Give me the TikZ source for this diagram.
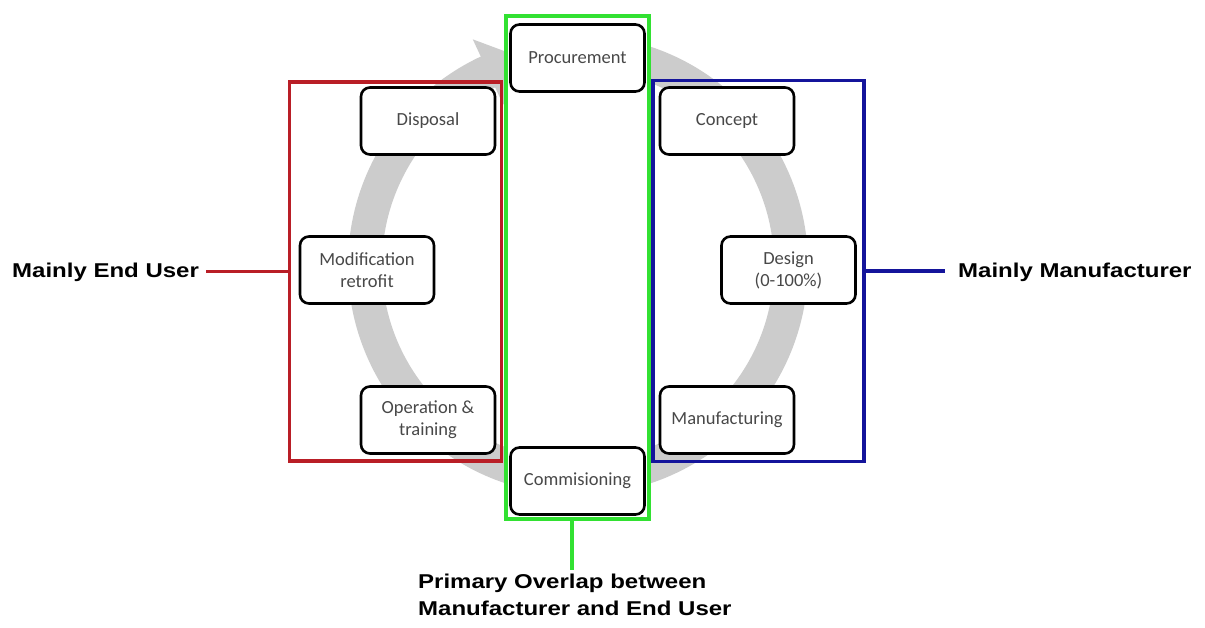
\documentclass[tikz,border=0pt]{standalone}
\usepackage{fontspec}
\newfontfamily\lblfont[FakeStretch=1.2]{Liberation Sans}
\newfontfamily\stepfont{Carlito}
\definecolor{ringgray}{RGB}{204,204,204}
\definecolor{stepgray}{RGB}{72,72,72}
\definecolor{userred}{RGB}{185,30,38}
\definecolor{makerblue}{RGB}{20,20,155}
\definecolor{overlapgreen}{RGB}{50,225,50}
\tikzset{
  stepbox/.style={draw=black, line width=2.6pt, rounded corners=9pt, fill=white,
    minimum width=134pt, minimum height=67pt, inner sep=0pt, align=center,
    text=stepgray, font=\stepfont\fontsize{18.5}{22}\selectfont},
  groupbox/.style={line width=3.6pt, inner sep=0pt},
  grouplabel/.style={inner sep=0pt, text=black, font=\lblfont\bfseries\fontsize{20}{27}\selectfont},
  ringpart/.style={ringgray}
}
\begin{document}
\begin{tikzpicture}[x=1pt,y=-1pt]
\useasboundingbox (0,0) rectangle (1205,627);
\fill[white] (0,0) rectangle (1205,627);

% life-cycle ring with its arrow head
\coordinate (rc) at (578,265);
\draw[ringpart, line width=34pt] ([shift={(rc)}]-85:213) arc[start angle=-85, end angle=247, radius=213];
\fill[ringpart] ([shift={(rc)}]245:177) -- ([shift={(rc)}]258:207) -- ([shift={(rc)}]245:249) -- cycle;

% overlap column (white inside) and the two party frames
\node[groupbox, draw=overlapgreen, fill=white, minimum width=143pt, minimum height=503pt] (greenbox) at (577.5,267.5) {};
\node[groupbox, draw=userred, minimum width=212pt, minimum height=379pt] (redbox) at (395.5,271.5) {};
\node[groupbox, draw=makerblue, minimum width=211pt, minimum height=381pt] (bluebox) at (758.5,271) {};

% life-cycle steps
\node[stepbox] (procurement) at (577.5,58) {Procurement};
\node[stepbox] (concept) at (727,121) {Concept};
\node[stepbox] (design) at (788.5,270) {Design\\(0-100\%)};
\node[stepbox] (manufacturing) at (727,420) {Manufacturing};
\node[stepbox] (commisioning) at (577.5,481) {Commisioning};
\node[stepbox] (operation) at (428,420) {Operation \&\\training};
\node[stepbox] (modification) at (367,270) {Modification\\retrofit};
\node[stepbox] (disposal) at (428,121) {Disposal};

% group labels
\node[grouplabel, anchor=west] (enduser) at (12,272) {Mainly End User};
\node[grouplabel, anchor=west] (manufacturer) at (958,272) {Mainly Manufacturer};
\node[grouplabel, anchor=north west, align=left] (overlap) at (418,574)
  {Primary Overlap between\\Manufacturer and End User};

% leader lines
\draw[userred, line width=3.4pt] ([xshift=7pt]enduser.east |- redbox.west) -- (redbox.west);
\draw[makerblue, line width=3.4pt] (bluebox.east) -- ([xshift=-13pt]manufacturer.west |- bluebox.east);
\coordinate (overlaptop) at (572,570);
\draw[overlapgreen, line width=3.4pt] (greenbox.south -| overlaptop) -- (overlaptop);
\end{tikzpicture}
\end{document}
